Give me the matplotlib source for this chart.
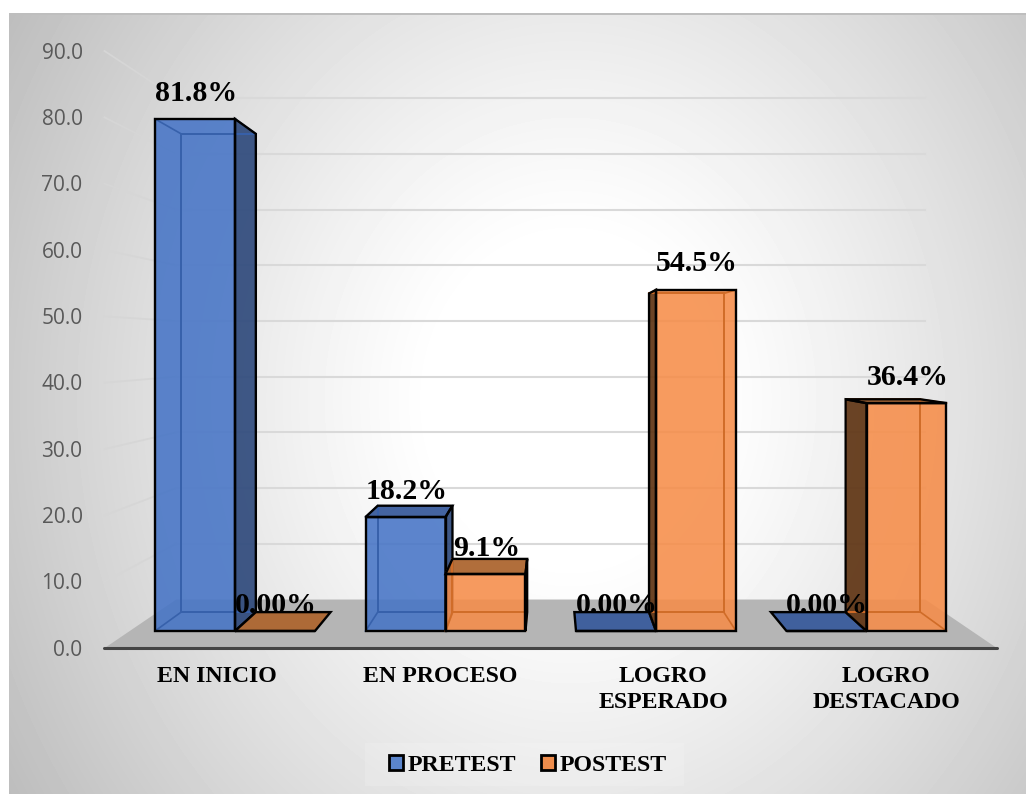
import numpy as np
import matplotlib
matplotlib.use("Agg")
import matplotlib.pyplot as plt
from matplotlib.patches import Polygon, Patch, Rectangle

# data
categorias = ["EN INICIO", "EN PROCESO", "LOGRO\nESPERADO", "LOGRO\nDESTACADO"]
pretest = [81.8, 18.2, 0.0, 0.0]
postest = [0.0, 9.1, 54.5, 36.4]
pretest_labels = ["81.8%", "18.2%", "0.00%", "0.00%"]
postest_labels = ["0.00%", "9.1%", "54.5%", "36.4%"]
y_ticks = [0, 10, 20, 30, 40, 50, 60, 70, 80, 90]

# fake 3D: everything is scaled around a vanishing point, k=1 is the front of the bars
VX, VY = 1.5, 45.7
K_AXIS = 1.06
K_BACK = 0.89
K_BAR = 0.934
BAR_W = 0.38
SERIF = "Liberation Serif"

W, H = 1026, 794
PX_X = 210.5  # pixels for one category
PX_Y = 6.26   # pixels for one unit of value


def proj(x, v, k=1.0):
    return (VX + k * (x - VX), VY + k * (v - VY))


def face(ax, pts, z, fc="none", ec="none", lw=0.0, alpha=None):
    ax.add_patch(Polygon(pts, closed=True, facecolor=fc, edgecolor=ec, linewidth=lw,
                         alpha=alpha, zorder=z, joinstyle="miter"))


def draw_bar(ax, x0, value, z, front, inner, side, top):
    x1 = x0 + BAR_W
    f = [proj(x0, 0), proj(x1, 0), proj(x1, value), proj(x0, value)]
    b = [proj(x0, 0, K_BAR), proj(x1, 0, K_BAR), proj(x1, value, K_BAR), proj(x0, value, K_BAR)]
    lw = 1.7

    # side face that can be seen from the vanishing point
    if value > 0:
        if x1 < VX:
            face(ax, [f[1], b[1], b[2], f[2]], z, fc=side, alpha=0.92)
            face(ax, [f[1], b[1], b[2], f[2]], z + 0.4, ec="black", lw=lw)
        elif x0 > VX:
            face(ax, [f[0], b[0], b[3], f[3]], z, fc=side, alpha=0.92)
            face(ax, [f[0], b[0], b[3], f[3]], z + 0.4, ec="black", lw=lw)

    # top face only shows when it is under the eye level
    if value < VY:
        face(ax, [f[3], f[2], b[2], b[3]], z + 0.1, fc=top, alpha=0.95)
        face(ax, [f[3], f[2], b[2], b[3]], z + 0.4, ec="black", lw=lw)

    if value > 0:
        face(ax, f, z + 0.2, fc=front, alpha=0.88)
        # inner edges seen through the glass
        face(ax, b, z + 0.3, ec=inner, lw=1.4)
        for i in range(4):
            ax.plot([f[i][0], b[i][0]], [f[i][1], b[i][1]], color=inner, lw=1.2, zorder=z + 0.3)
    face(ax, f, z + 0.5, ec="black", lw=lw)


fig = plt.figure(figsize=(W / 100, H / 100), dpi=100)
ax = fig.add_axes([0, 0, 1, 1])
ax.axis("off")

# background gradient
xx, yy = np.meshgrid(np.arange(W), np.arange(H))
r = np.sqrt(((xx - 570) / 530) ** 2 + ((yy - 400) / 610) ** 2) / 1.29
bg = 255 - 70 * np.clip((r - 0.2) / 0.8, 0, 1) ** 1.15
bg[:, :9] = 255
bg[:13, :] = 255
bg[13:15, 9:] = 190
ax.imshow(bg, cmap="gray", vmin=0, vmax=255, extent=(0, 1, 0, 1), transform=ax.transAxes,
          aspect="auto", zorder=0, interpolation="bilinear")
ax.set_xlim(-235 / PX_X, (W - 235) / PX_X)
ax.set_ylim((631 - H) / PX_Y, 631 / PX_Y)

# grid on the back wall and the left wall
for v in y_ticks[1:]:
    a, b, c = proj(-0.5, v, K_AXIS), proj(-0.5, v, K_BACK), proj(3.5, v, K_BACK)
    ax.plot([a[0], b[0]], [a[1], b[1]], color="#d6d6d6", lw=1.3, zorder=1)
    ax.plot([b[0], c[0]], [b[1], c[1]], color="#d9d9d9", lw=1.5, zorder=1)

# floor and axis line
face(ax, [proj(-0.5, 0, K_AXIS), proj(3.5, 0, K_AXIS), proj(3.5, 0, K_BACK), proj(-0.5, 0, K_BACK)],
     2, fc="#b5b5b5")
a, b = proj(-0.5, 0, K_AXIS), proj(3.5, 0, K_AXIS)
ax.plot([a[0], b[0]], [a[1], b[1]], color="#444444", lw=2.2, zorder=3, solid_capstyle="round")

# y labels
for v in y_ticks:
    ax.annotate(f"{v:.1f}", proj(-0.5, v, K_AXIS), xytext=(-15.8, -1.5), textcoords="offset points",
                ha="right", va="center", fontsize=15, family="Open Sans", color="#595959", zorder=10)

# bars
for i in range(len(categorias)):
    draw_bar(ax, i - BAR_W, pretest[i], 4 + 2 * i, "#4674C6", "#3761ab", "#2f4a7c", "#3a5c9c")
    draw_bar(ax, i, postest[i], 5 + 2 * i, "#F68D49", "#d06c28", "#5f3413", "#ad6630")

# value labels
for i in range(len(categorias)):
    ax.annotate(pretest_labels[i], proj(i - BAR_W / 2, pretest[i]), xytext=(0.5, 18.6),
                textcoords="offset points", ha="center", va="center", fontsize=21.5,
                family=SERIF, weight="bold", color="black", zorder=20)
    ax.annotate(postest_labels[i], proj(i + BAR_W / 2, postest[i]), xytext=(0.5, 18.6),
                textcoords="offset points", ha="center", va="center", fontsize=21.5,
                family=SERIF, weight="bold", color="black", zorder=20)

# category labels
for i, cat in enumerate(categorias):
    ax.annotate(cat, proj(i, 0, K_AXIS), xytext=(0.7, -13), textcoords="offset points",
                ha="center", va="top", fontsize=17.2, family=SERIF, weight="bold",
                color="black", linespacing=1.28, zorder=20)

# pale box behind the legend
ax.add_patch(Rectangle((365 / W, 1 - 786 / H), 319 / W, 43 / H, transform=ax.transAxes,
                       facecolor="white", edgecolor="none", alpha=0.15, zorder=14))
handles = [Patch(facecolor="#5b85cc", edgecolor="black", linewidth=2.0, label="PRETEST"),
           Patch(facecolor="#ef8d4c", edgecolor="black", linewidth=2.0, label="POSTEST")]
leg = ax.legend(handles=handles, ncol=2, loc="center", bbox_to_anchor=(0.5148, 0.0360),
                prop={"family": SERIF, "weight": "bold", "size": 17.2}, frameon=False,
                handlelength=0.56, handleheight=0.6, handletextpad=0.22, columnspacing=1.03,
                borderpad=0.6, labelcolor="black")
leg.set_zorder(15)

fig.savefig("out.png", dpi=100)
